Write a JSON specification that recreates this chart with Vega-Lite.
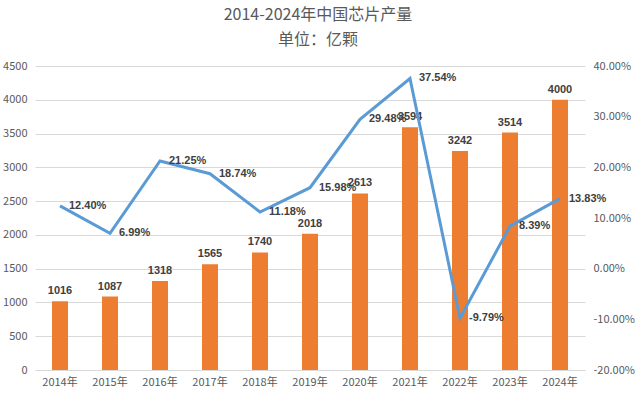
{
  "$schema": "https://vega.github.io/schema/vega-lite/v6.json",
  "autosize": "none",
  "width": 550,
  "height": 304,
  "padding": {"left": 35, "top": 66, "right": 51, "bottom": 27},
  "background": "white",
  "config": {
    "view": {"stroke": null},
    "font": "Noto Sans CJK SC",
    "locale": {
      "number": {"decimal": ".", "thousands": ",", "grouping": [3], "currency": ["", ""], "minus": "-"}
    }
  },
  "title": {
    "text": ["2014-2024年中国芯片产量", "单位：亿颗"],
    "fontSize": 16,
    "fontWeight": "normal",
    "color": "#595959",
    "font": "Noto Sans CJK SC",
    "anchor": "middle",
    "frame": "group",
    "dx": 8,
    "lineHeight": 25,
    "offset": 12
  },
  "data": {
    "values": [
      {"year": "2014年", "output": 1016, "growth": 0.1240},
      {"year": "2015年", "output": 1087, "growth": 0.0699},
      {"year": "2016年", "output": 1318, "growth": 0.2125},
      {"year": "2017年", "output": 1565, "growth": 0.1874},
      {"year": "2018年", "output": 1740, "growth": 0.1118},
      {"year": "2019年", "output": 2018, "growth": 0.1598},
      {"year": "2020年", "output": 2613, "growth": 0.2948},
      {"year": "2021年", "output": 3594, "growth": 0.3754},
      {"year": "2022年", "output": 3242, "growth": -0.0979},
      {"year": "2023年", "output": 3514, "growth": 0.0839},
      {"year": "2024年", "output": 4000, "growth": 0.1383}
    ]
  },
  "encoding": {
    "x": {
      "field": "year",
      "type": "nominal",
      "sort": null,
      "scale": {"paddingInner": 0, "paddingOuter": 0},
      "axis": {
        "title": null,
        "labelAngle": 0,
        "labelColor": "#595959",
        "labelFontSize": 11,
        "labelPadding": 6,
        "ticks": false,
        "domainColor": "#d9d9d9",
        "domainWidth": 1
      }
    }
  },
  "layer": [
    {
      "encoding": {
        "y": {
          "field": "output",
          "type": "quantitative",
          "scale": {"domain": [0, 4500], "nice": false},
          "axis": {
            "title": null,
            "values": [0, 500, 1000, 1500, 2000, 2500, 3000, 3500, 4000, 4500],
            "labelOverlap": false,
            "labelColor": "#595959",
            "labelFontSize": 11,
            "labelPadding": 8,
            "ticks": false,
            "domain": false,
            "gridColor": "#d9d9d9",
            "gridWidth": 1,
            "format": "d"
          }
        }
      },
      "layer": [
        {
          "mark": {"type": "bar", "color": "#ED7D31", "width": 16}
        },
        {
          "mark": {"type": "text", "baseline": "bottom", "dy": -5, "fontWeight": "bold", "fontSize": 11, "color": "#404040", "font": "Liberation Sans"},
          "encoding": {
            "text": {"field": "output", "type": "quantitative", "format": "d"}
          }
        }
      ]
    },
    {
      "encoding": {
        "y": {
          "field": "growth",
          "type": "quantitative",
          "scale": {"domain": [-0.2, 0.4], "nice": false},
          "axis": {
            "orient": "right",
            "title": null,
            "values": [-0.2, -0.1, 0, 0.1, 0.2, 0.3, 0.4],
            "labelOverlap": false,
            "format": ".2%",
            "labelColor": "#595959",
            "labelFontSize": 11,
            "labelPadding": 8,
            "ticks": false,
            "domain": false,
            "grid": false
          }
        }
      },
      "layer": [
        {
          "mark": {"type": "line", "color": "#5B9BD5", "strokeWidth": 3}
        },
        {
          "mark": {"type": "text", "align": "left", "baseline": "middle", "dx": 9, "fontWeight": "bold", "fontSize": 11, "color": "#404040", "font": "Liberation Sans"},
          "encoding": {
            "text": {"field": "growth", "type": "quantitative", "format": ".2%"}
          }
        }
      ]
    }
  ],
  "resolve": {"scale": {"y": "independent"}}
}
